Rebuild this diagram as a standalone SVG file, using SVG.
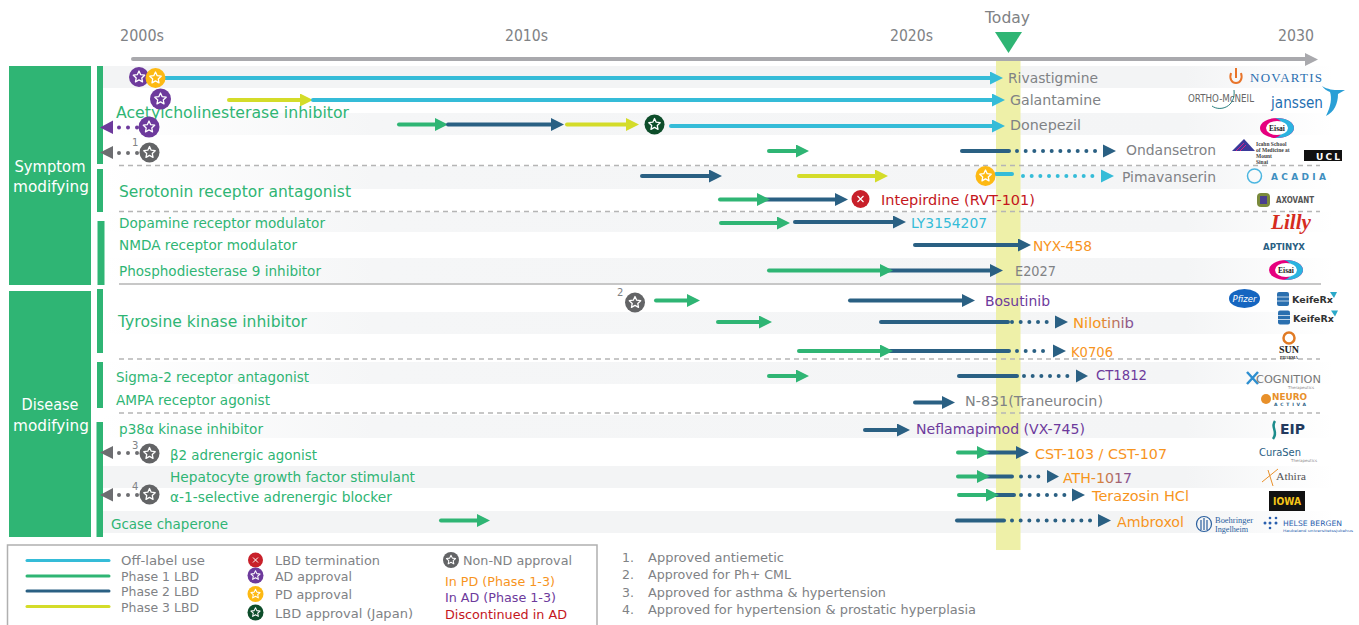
<svg xmlns="http://www.w3.org/2000/svg" width="1359" height="625" viewBox="0 0 1359 625">
<style>
text{font-family:"DejaVu Sans","Noto Sans",sans-serif;font-size:14.500px;fill:#808285}
.g{fill:#2fb574}.o{fill:#f7941d}.p{fill:#6d3a9c}.r{fill:#c4161c}.c{fill:#35bcd8}.w{fill:#fff}
.s{font-size:10px}
.big{font-size:15.500px}
.leg{font-size:12.500px}
.yr{font-size:15.500px}
line{fill:none;stroke-linecap:round;stroke-width:4}
.lc{stroke:#35bcd8}.lg{stroke:#2fb574}.lb{stroke:#2a6083}.ly{stroke:#d4dc29}.lp{stroke:#6d3a9c}.la{stroke:#6d6e71}
.d{stroke-dasharray:0 8.67}
.sep{stroke:#b5b5b5;stroke-width:1.3;stroke-linecap:butt;stroke-dasharray:5 4}
.bar{fill:#2fb574}
.star{fill:none;stroke:#fff;stroke-width:1.3;stroke-linejoin:round}
.lt{font-weight:700;font-family:"Liberation Serif",serif}
</style>
<defs>
<linearGradient id="f1"><stop offset="0" stop-color="#f3f4f5"/><stop offset=".88" stop-color="#f3f4f5"/><stop offset="1" stop-color="#fff"/></linearGradient>
<linearGradient id="f2"><stop offset="0" stop-color="#fff"/><stop offset=".22" stop-color="#f5f6f7"/><stop offset=".88" stop-color="#f4f5f6"/><stop offset="1" stop-color="#fff"/></linearGradient>
<linearGradient id="ath"><stop offset=".4" stop-color="#f7941d"/><stop offset="1" stop-color="#7a4a9c"/></linearGradient>
<path id="st" class="star" d="M0-6 1.7-2.35 5.71-1.85 2.76.9 3.53 4.85 0 2.9-3.53 4.85-2.76.9-5.71-1.85-1.7-2.35Z"/>
<marker id="mc" markerUnits="userSpaceOnUse" markerWidth="13" markerHeight="13" refX="0" refY="6.5" orient="auto"><path d="M0 0 13 6.5 0 13Z" fill="#35bcd8"/></marker>
<marker id="mg" markerUnits="userSpaceOnUse" markerWidth="13" markerHeight="13" refX="0" refY="6.5" orient="auto"><path d="M0 0 13 6.5 0 13Z" fill="#2fb574"/></marker>
<marker id="mb" markerUnits="userSpaceOnUse" markerWidth="13" markerHeight="13" refX="0" refY="6.5" orient="auto"><path d="M0 0 13 6.5 0 13Z" fill="#2a6083"/></marker>
<marker id="my" markerUnits="userSpaceOnUse" markerWidth="13" markerHeight="13" refX="0" refY="6.5" orient="auto"><path d="M0 0 13 6.5 0 13Z" fill="#d4dc29"/></marker>
<g id="eisai"><ellipse cx="0" cy="0" rx="17" ry="10" fill="#e6007e"/><path d="M-2-10A17 10 0 0 1 17 0 17 10 0 0 1-2 10C9 7 9-7-2-10Z" fill="#2bb3e0"/><ellipse cx="0" cy="0" rx="11" ry="7" fill="#fff"/><text class="lt" x="0" y="3" text-anchor="middle" style="font-size:7.5px;fill:#222">Eisai</text></g>
<g id="keife"><rect x="0" y="-7" width="12" height="14" rx="2" fill="#2a6faf"/><path d="M0-2H12M0 2H12" stroke="#fff" stroke-width=".7"/><text x="15" y="4" style="font-size:9px;font-weight:700;fill:#333" textLength="41" lengthAdjust="spacingAndGlyphs">KeifeRx</text><path d="M53-7 60-7 57-1Z" fill="#2ba9c9"/></g>
</defs>

<g id="bands">
<rect x="103" y="66" width="1230" height="22" fill="url(#f1)"/>
<rect x="103" y="113" width="1230" height="22" fill="url(#f2)"/>
<rect x="103" y="166" width="1230" height="23" fill="url(#f2)"/>
<rect x="103" y="212" width="1230" height="20" fill="url(#f2)"/>
<rect x="103" y="258" width="1230" height="25" fill="url(#f2)"/>
<rect x="103" y="312" width="1230" height="22" fill="url(#f2)"/>
<rect x="103" y="362" width="1230" height="22" fill="url(#f2)"/>
<rect x="103" y="415" width="1230" height="23" fill="url(#f2)"/>
<rect x="103" y="466" width="1230" height="22" fill="url(#f1)"/>
<rect x="103" y="511" width="1230" height="22" fill="url(#f1)"/>
<rect x="996" y="58" width="24.500" height="492" fill="#eef0a8"/>
</g>

<g id="sidebar">
<g id="symptom"><rect x="9" y="66" width="82" height="219" fill="#2fb574"/><text class="w big" x="50" y="172" text-anchor="middle" textLength="71" lengthAdjust="spacingAndGlyphs">Symptom</text><text class="w big" x="51" y="192" text-anchor="middle" textLength="76" lengthAdjust="spacingAndGlyphs">modifying</text></g>
<g id="disease"><rect x="9" y="291" width="82" height="246" fill="#2fb574"/><text class="w big" x="50" y="410" text-anchor="middle" textLength="57" lengthAdjust="spacingAndGlyphs">Disease</text><text class="w big" x="51" y="431" text-anchor="middle" textLength="76" lengthAdjust="spacingAndGlyphs">modifying</text></g>
<rect class="bar" x="97" y="66" width="6" height="98"/><rect class="bar" x="97" y="169" width="6" height="43"/><rect class="bar" x="97.500" y="221" width="7" height="64"/><rect class="bar" x="97" y="289" width="6" height="64"/><rect class="bar" x="97" y="362" width="6" height="46"/><rect class="bar" x="96.500" y="422" width="6.500" height="115"/>
</g>

<g id="axis">
<line x1="133" y1="59" x2="1305" y2="59" stroke="#a9a9ad" stroke-width="4.500"/><path d="M1305 53 1318 59.500 1305 66Z" fill="#a9a9ad"/>
<text class="yr" x="120" y="41" textLength="44" lengthAdjust="spacingAndGlyphs">2000s</text><text class="yr" x="505" y="41" textLength="43" lengthAdjust="spacingAndGlyphs">2010s</text><text class="yr" x="890" y="41" textLength="43" lengthAdjust="spacingAndGlyphs">2020s</text><text class="yr" x="1278" y="41" textLength="36" lengthAdjust="spacingAndGlyphs">2030</text>
<g id="today"><text class="yr" x="985" y="23" textLength="45" lengthAdjust="spacingAndGlyphs">Today</text><path d="M995 32H1022L1008.500 53Z" fill="#2fb574"/></g>
</g>

<g id="separators">
<line class="sep" x1="119" y1="165.500" x2="1320" y2="165.500"/><line class="sep" x1="119" y1="211.500" x2="1320" y2="211.500"/><line class="sep" x1="119" y1="359" x2="1320" y2="359"/><line class="sep" x1="119" y1="413" x2="1320" y2="413"/>
<line x1="119" y1="284" x2="1321" y2="284" stroke="#b5b5b5" style="stroke-width:1.300;stroke-linecap:butt"/>
</g>

<g id="connectors">
<line class="lc" x1="160" y1="78" x2="990" y2="78" marker-end="url(#mc)"/>
<line class="ly" x1="229" y1="100" x2="300" y2="100" marker-end="url(#my)"/><line class="lc" x1="313" y1="100" x2="992" y2="100" marker-end="url(#mc)"/>
<line class="lg" x1="399" y1="124.500" x2="435" y2="124.500" marker-end="url(#mg)"/><line class="lb" x1="448" y1="124.500" x2="551" y2="124.500" marker-end="url(#mb)"/><line class="ly" x1="567" y1="124.500" x2="626" y2="124.500" marker-end="url(#my)"/><line class="lc" x1="671" y1="126" x2="992" y2="126" marker-end="url(#mc)"/>
<line class="lg" x1="769" y1="151" x2="796" y2="151" marker-end="url(#mg)"/><line class="lb" x1="962" y1="151" x2="1009" y2="151"/><line class="lb d" x1="1017" y1="151" x2="1096" y2="151"/><path d="M1103 144.500 1116 151 1103 157.500Z" fill="#2a6083"/>
<line class="lb" x1="642" y1="176" x2="709" y2="176" marker-end="url(#mb)"/><line class="ly" x1="799" y1="176" x2="875" y2="176" marker-end="url(#my)"/><line class="lc" x1="996" y1="174" x2="1012" y2="174"/><line class="lc d" x1="1023" y1="176" x2="1096" y2="176"/><path d="M1101 169.500 1114 176 1101 182.500Z" fill="#35bcd8"/>
<line class="lb" x1="765" y1="199.500" x2="835" y2="199.500" marker-end="url(#mb)"/><line class="lg" x1="720" y1="199.500" x2="757" y2="199.500" marker-end="url(#mg)"/>
<line class="lg" x1="721" y1="223" x2="777" y2="223" marker-end="url(#mg)"/><line class="lb" x1="795" y1="222" x2="893" y2="222" marker-end="url(#mb)"/>
<line class="lb" x1="915" y1="245" x2="1018" y2="245" marker-end="url(#mb)"/>
<line class="lb" x1="885" y1="270.500" x2="990" y2="270.500" marker-end="url(#mb)"/><line class="lg" x1="769" y1="270.500" x2="880" y2="270.500" marker-end="url(#mg)"/>
<line class="lg" x1="656" y1="300.500" x2="687" y2="300.500" marker-end="url(#mg)"/><line class="lb" x1="850" y1="300.500" x2="962" y2="300.500" marker-end="url(#mb)"/>
<line class="lg" x1="718" y1="322" x2="759" y2="322" marker-end="url(#mg)"/><line class="lb" x1="881" y1="322" x2="1008" y2="322"/><line class="lb d" x1="1012" y1="322" x2="1048" y2="322"/><path d="M1055 315.500 1068 322 1055 328.500Z" fill="#2a6083"/>
<line class="lb" x1="885" y1="351" x2="1009" y2="351"/><line class="lg" x1="799" y1="351" x2="880" y2="351" marker-end="url(#mg)"/><line class="lb d" x1="1017" y1="351" x2="1046" y2="351"/><path d="M1053 344.500 1066 351 1053 357.500Z" fill="#2a6083"/>
<line class="lg" x1="769" y1="376" x2="796" y2="376" marker-end="url(#mg)"/><line class="lb" x1="959" y1="376" x2="1017" y2="376"/><line class="lb d" x1="1024" y1="376" x2="1071" y2="376"/><path d="M1076 369.500 1088 376 1076 382.500Z" fill="#2a6083"/>
<line class="lb" x1="915" y1="402.500" x2="942" y2="402.500" marker-end="url(#mb)"/>
<line class="lb" x1="865" y1="430" x2="897" y2="430" marker-end="url(#mb)"/>
<line class="lb" x1="985" y1="452.500" x2="1016" y2="452.500" marker-end="url(#mb)"/><line class="lg" x1="958" y1="452.500" x2="977" y2="452.500" marker-end="url(#mg)"/>
<line class="lb" x1="985" y1="476.500" x2="1012" y2="476.500"/><line class="lg" x1="958" y1="476.500" x2="977" y2="476.500" marker-end="url(#mg)"/><line class="lb d" x1="1021" y1="476.500" x2="1040" y2="476.500"/><path d="M1047 470 1059 476.500 1047 483Z" fill="#2a6083"/>
<line class="lb" x1="990" y1="495" x2="1014" y2="495"/><line class="lg" x1="959" y1="495" x2="986" y2="495" marker-end="url(#mg)"/><line class="lb d" x1="1021" y1="495" x2="1068" y2="495"/><path d="M1072 488.500 1085 495 1072 501.500Z" fill="#2a6083"/>
<line class="lb" x1="957" y1="520.500" x2="1004" y2="520.500"/><line class="lb d" x1="1012" y1="520.500" x2="1092" y2="520.500"/><path d="M1098 514 1111 520.500 1098 527Z" fill="#2a6083"/>
<line class="lg" x1="441" y1="520.500" x2="477" y2="520.500" marker-end="url(#mg)"/>
<line class="lp d" style="stroke-dasharray:0 9" x1="119" y1="127.500" x2="138" y2="127.500"/><path d="M113 120.500 100 127.500 113 134Z" fill="#6d3a9c"/>
<line class="la d" style="stroke-dasharray:0 9" x1="119" y1="153" x2="138" y2="153"/><path d="M113 146 100 152.500 113 159Z" fill="#6d6e71"/>
<line class="la d" style="stroke-dasharray:0 9" x1="119" y1="453" x2="138" y2="453"/><path d="M113 446 100 452.500 113 459Z" fill="#6d6e71"/>
<line class="la d" style="stroke-dasharray:0 9" x1="119" y1="495" x2="138" y2="495"/><path d="M113 488 100 495 113 501.500Z" fill="#6d6e71"/>
</g>

<g id="labels">
<text class="g big" x="116" y="118" textLength="233" lengthAdjust="spacingAndGlyphs">Acetylcholinesterase inhibitor</text>
<text class="g big" x="119" y="197" textLength="232" lengthAdjust="spacingAndGlyphs">Serotonin receptor antagonist</text>
<text class="g" x="119" y="228" textLength="206" lengthAdjust="spacingAndGlyphs">Dopamine receptor modulator</text>
<text class="g" x="119" y="250" textLength="178" lengthAdjust="spacingAndGlyphs">NMDA receptor modulator</text>
<text class="g" x="119" y="276" textLength="202" lengthAdjust="spacingAndGlyphs">Phosphodiesterase 9 inhibitor</text>
<text class="g big" x="118" y="327" textLength="189" lengthAdjust="spacingAndGlyphs">Tyrosine kinase inhibitor</text>
<text class="g" x="116" y="382" textLength="193" lengthAdjust="spacingAndGlyphs">Sigma-2 receptor antagonist</text>
<text class="g" x="116" y="405" textLength="154" lengthAdjust="spacingAndGlyphs">AMPA receptor agonist</text>
<text class="g" x="119" y="434" textLength="144" lengthAdjust="spacingAndGlyphs">p38α kinase inhibitor</text>
<text class="g" x="170" y="460" textLength="147" lengthAdjust="spacingAndGlyphs">β2 adrenergic agonist</text>
<text class="g" x="170" y="482" textLength="245" lengthAdjust="spacingAndGlyphs">Hepatocyte growth factor stimulant</text>
<text class="g" x="170" y="502" textLength="222" lengthAdjust="spacingAndGlyphs">α-1-selective adrenergic blocker</text>
<text class="g" x="111" y="529" textLength="117" lengthAdjust="spacingAndGlyphs">Gcase chaperone</text>
<text x="1008" y="83" textLength="90" lengthAdjust="spacingAndGlyphs">Rivastigmine</text>
<text x="1010" y="105" textLength="91" lengthAdjust="spacingAndGlyphs">Galantamine</text>
<text x="1010" y="130" textLength="71" lengthAdjust="spacingAndGlyphs">Donepezil</text>
<text x="1126" y="155" textLength="90" lengthAdjust="spacingAndGlyphs">Ondansetron</text>
<text x="1122" y="182" textLength="94" lengthAdjust="spacingAndGlyphs">Pimavanserin</text>
<text class="r" x="881" y="205" textLength="154" lengthAdjust="spacingAndGlyphs">Intepirdine (RVT-101)</text>
<text class="c" x="911" y="228" textLength="76" lengthAdjust="spacingAndGlyphs">LY3154207</text>
<text class="o" x="1033" y="251" textLength="59" lengthAdjust="spacingAndGlyphs">NYX-458</text>
<text x="1015" y="276" textLength="41" lengthAdjust="spacingAndGlyphs">E2027</text>
<text class="p" x="985" y="306" textLength="65" lengthAdjust="spacingAndGlyphs">Bosutinib</text>
<text x="1073" y="328" textLength="61" lengthAdjust="spacingAndGlyphs" style="fill:url(#ath)">Nilotinib</text>
<text class="o" x="1071" y="357" textLength="42" lengthAdjust="spacingAndGlyphs">K0706</text>
<text class="p" x="1096" y="380" textLength="51" lengthAdjust="spacingAndGlyphs">CT1812</text>
<text x="965" y="406" textLength="138" lengthAdjust="spacingAndGlyphs">N-831(Traneurocin)</text>
<text class="p" x="916" y="434" textLength="169" lengthAdjust="spacingAndGlyphs">Neflamapimod (VX-745)</text>
<text class="o" x="1035" y="459" textLength="132" lengthAdjust="spacingAndGlyphs">CST-103 / CST-107</text>
<text x="1063" y="483" textLength="69" lengthAdjust="spacingAndGlyphs" style="fill:url(#ath)">ATH-1017</text>
<text class="o" x="1092" y="501" textLength="97" lengthAdjust="spacingAndGlyphs">Terazosin HCl</text>
<text class="o" x="1117" y="527" textLength="67" lengthAdjust="spacingAndGlyphs">Ambroxol</text>
<text class="s" x="132" y="146">1</text><text class="s" x="617" y="296">2</text><text class="s" x="132" y="449">3</text><text class="s" x="132" y="490">4</text>
</g>

<g id="markers">
<g id="m1" transform="translate(139 77)"><circle r="10" fill="#6d3a9c"/><use href="#st"/></g>
<g id="m2" transform="translate(155.500 78)"><circle r="10" fill="#fdb913"/><use href="#st"/></g>
<g id="m3" transform="translate(160.500 99)"><circle r="10.500" fill="#6d3a9c"/><use href="#st"/></g>
<g id="m4" transform="translate(149 127)"><circle r="10.500" fill="#6d3a9c"/><use href="#st"/></g>
<g id="m5" transform="translate(149.500 152.500)"><circle r="10" fill="#636466"/><use href="#st"/></g>
<g id="m6" transform="translate(654.500 124.500)"><circle r="10" fill="#0d4d2a"/><use href="#st"/></g>
<g id="m7" transform="translate(985.500 176)"><circle r="10" fill="#fdb913"/><use href="#st"/></g>
<g id="m8" transform="translate(860.500 199)"><circle r="9" fill="#c8202a"/><path d="M-3-3 3 3M3-3-3 3" stroke="#fff" stroke-width="1.200"/></g>
<g id="m9" transform="translate(635 302.500)"><circle r="10" fill="#636466"/><use href="#st"/></g>
<g id="m10" transform="translate(149.500 453.500)"><circle r="10" fill="#636466"/><use href="#st"/></g>
<g id="m11" transform="translate(149.500 494.500)"><circle r="10" fill="#636466"/><use href="#st"/></g>
</g>

<g id="logos">
<g id="novartis"><path d="M1236 68V78M1231 73C1229 79 1232 83 1236 83S1243 79 1241 73" fill="none" stroke="#e8742a" stroke-width="2"/><text x="1250" y="82" textLength="72" lengthAdjust="spacing" style="font-family:'Liberation Serif',serif;font-size:13px;fill:#2a6fb0">NOVARTIS</text></g>
<g id="ortho"><text x="1188" y="102" textLength="66" lengthAdjust="spacingAndGlyphs" style="font-size:10px;fill:#666">ORTHO-McNEIL</text><path d="M1212 106C1220 112 1236 107 1234 90" fill="none" stroke="#2a7f80" stroke-width="1"/></g>
<g id="janssen"><text x="1271" y="108" textLength="52" lengthAdjust="spacingAndGlyphs" style="font-size:15px;fill:#1f6fb2">janssen</text><path d="M1322 86C1330 91 1338 90 1345 90L1338 94C1338 104 1334 112 1326 116 1331 106 1332 98 1330 92 1327 91 1324 89 1322 86Z" fill="#2a9fd6"/></g>
<use id="eisai1" href="#eisai" x="1277" y="128"/>
<g id="sinai"><path d="M1232 151 1244 139 1255 151Z" fill="#3a3a9a"/><path d="M1236 151 1244 143M1240 151 1246 145" stroke="#d61f8a" stroke-width="1"/><text class="lt" x="1256" y="146" style="font-size:5.500px;fill:#444">Icahn School</text><text class="lt" x="1256" y="152" style="font-size:5.500px;fill:#444">of Medicine at</text><text class="lt" x="1256" y="158" style="font-size:5.500px;fill:#444">Mount</text><text class="lt" x="1256" y="164" style="font-size:5.500px;fill:#444">Sinai</text></g>
<g id="ucl"><rect x="1304" y="150" width="38" height="11" fill="#111"/><text class="w" x="1316" y="159.500" style="font-size:9px;font-weight:700" textLength="24">UCL</text></g>
<g id="acadia"><circle cx="1254.500" cy="176" r="7" fill="none" stroke="#4cb6e0" stroke-width="1.500"/><text x="1271" y="179.500" textLength="55" lengthAdjust="spacing" style="font-size:9px;font-weight:700;fill:#3f8fc0">ACADIA</text></g>
<g id="axovant"><rect x="1257" y="193" width="13" height="14" rx="4" fill="#7a8a3c"/><rect x="1260" y="196" width="7" height="8" fill="#4a3f90"/><text x="1276" y="203" textLength="38" lengthAdjust="spacingAndGlyphs" style="font-size:8px;font-weight:700;fill:#555">AXOVANT</text></g>
<text id="lilly" x="1271" y="229" textLength="40" lengthAdjust="spacingAndGlyphs" style="font-family:'Liberation Serif',serif;font-style:italic;font-weight:700;font-size:21px;fill:#d52b1e">Lilly</text>
<g id="aptinyx"><text x="1263" y="250" textLength="42" lengthAdjust="spacingAndGlyphs" style="font-size:9px;font-weight:700;fill:#2a6083">APTINYX</text></g>
<use id="eisai2" href="#eisai" x="1286" y="270"/>
<g id="pfizer"><ellipse cx="1244.500" cy="298.500" rx="15.500" ry="9.500" fill="#1565c0"/><text class="w" x="1244.500" y="302" text-anchor="middle" style="font-size:8.500px;font-style:italic">Pfizer</text></g>
<use id="keife1" href="#keife" x="1277" y="299"/><use id="keife2" href="#keife" x="1278" y="317.500"/>
<g id="sun"><circle cx="1289" cy="338" r="5.500" fill="none" stroke="#e07a24" stroke-width="2.500"/><text class="lt" x="1289" y="353" text-anchor="middle" style="font-size:10px;fill:#222">SUN</text><text class="lt" x="1289" y="358.500" text-anchor="middle" style="font-size:4px;fill:#222">PHARMA</text></g>
<g id="cognition"><path d="M1247 372 1258 384M1258 372 1247 384" stroke="#2e8fd0" stroke-width="2.500"/><text x="1256" y="383" textLength="65" lengthAdjust="spacingAndGlyphs" style="font-size:10px;fill:#777">COGNITION</text><text x="1288" y="388.500" style="font-size:4px;fill:#888">Therapeutics</text></g>
<g id="neuro"><circle cx="1266" cy="399" r="5" fill="#e8902a"/><text x="1272" y="400" textLength="35" lengthAdjust="spacingAndGlyphs" style="font-size:8px;font-weight:700;fill:#e8902a">NEURO</text><text x="1274" y="406" textLength="32" lengthAdjust="spacing" style="font-size:4.500px;font-weight:700;fill:#2a6083">ACTIVA</text></g>
<g id="eip"><path d="M1275 421C1270 428 1279 431 1273 439" fill="none" stroke="#1c8c8c" stroke-width="2.500"/><text x="1280" y="434" textLength="25" lengthAdjust="spacingAndGlyphs" style="font-size:14px;font-weight:700;fill:#223a5e">EIP</text></g>
<g id="curasen"><text x="1259" y="456" textLength="42" lengthAdjust="spacingAndGlyphs" style="font-size:10px;fill:#2a6083">CuraSen</text><text x="1291" y="462" style="font-size:4px;fill:#888">Therapeutics</text></g>
<g id="athira"><path d="M1262 482 1278 469M1268 470 1273 486" stroke="#e8902a" stroke-width="1"/><text x="1276" y="480" textLength="30" lengthAdjust="spacingAndGlyphs" style="font-family:'Liberation Serif',serif;font-size:10px;fill:#555">Athira</text></g>
<g id="iowa"><rect x="1269" y="491" width="36" height="20" fill="#111"/><text x="1287" y="505" text-anchor="middle" textLength="28" lengthAdjust="spacingAndGlyphs" style="font-size:11px;font-weight:700;fill:#f5c518">IOWA</text></g>
<g id="boehringer"><circle cx="1204" cy="524" r="7.500" fill="none" stroke="#2a5f9e" stroke-width="1.200"/><path d="M1201 530V520M1204 530V518M1207 530V520" stroke="#2a5f9e" stroke-width="1.200"/><text x="1215" y="523" textLength="38" lengthAdjust="spacingAndGlyphs" style="font-family:'Liberation Serif',serif;font-size:8px;fill:#2a5f9e">Boehringer</text><text x="1215" y="532" textLength="33" lengthAdjust="spacingAndGlyphs" style="font-family:'Liberation Serif',serif;font-size:8px;fill:#2a5f9e">Ingelheim</text></g>
<g id="helse"><g fill="#2a5fae"><circle cx="1265" cy="523" r="1.500"/><circle cx="1270" cy="523" r="1.500"/><circle cx="1276" cy="523" r="1.500"/><circle cx="1270" cy="518" r="1.300"/><circle cx="1276" cy="518" r="1.300"/><circle cx="1270" cy="528" r="1.300"/></g><text x="1283" y="526" textLength="59" lengthAdjust="spacingAndGlyphs" style="font-size:7.500px;fill:#2a5fae">HELSE BERGEN</text><text x="1283" y="532" textLength="70" lengthAdjust="spacingAndGlyphs" style="font-size:3.500px;fill:#2a5fae">Haukeland universitetssjukehus</text></g>
</g>

<g id="legend">
<path d="M7.500 625V545H597V625" fill="none" stroke="#b0b0b0" stroke-width="1.500"/>
<line class="lc" x1="27" y1="560.500" x2="109" y2="560.500" style="stroke-width:3"/><line class="lg" x1="27" y1="576" x2="109" y2="576" style="stroke-width:3"/><line class="lb" x1="27" y1="591" x2="109" y2="591" style="stroke-width:3"/><line class="ly" x1="27" y1="606.500" x2="109" y2="606.500" style="stroke-width:3"/>
<text class="leg" x="121" y="565" textLength="84" lengthAdjust="spacingAndGlyphs">Off-label use</text><text class="leg" x="121" y="581" textLength="78" lengthAdjust="spacingAndGlyphs">Phase 1 LBD</text><text class="leg" x="121" y="596" textLength="78" lengthAdjust="spacingAndGlyphs">Phase 2 LBD</text><text class="leg" x="121" y="612" textLength="78" lengthAdjust="spacingAndGlyphs">Phase 3 LBD</text>
<g transform="translate(255.500 560)"><circle r="7.500" fill="#c8202a"/><path d="M-2.500-2.500 2.500 2.500M2.500-2.500-2.500 2.500" stroke="#fff" stroke-width="1"/></g>
<g transform="translate(255.500 575.500)"><circle r="8" fill="#6d3a9c"/><use href="#st" transform="scale(.8)"/></g>
<g transform="translate(255.500 594)"><circle r="8" fill="#fdb913"/><use href="#st" transform="scale(.8)"/></g>
<g transform="translate(255.500 612.500)"><circle r="8" fill="#0d4d2a"/><use href="#st" transform="scale(.8)"/></g>
<text class="leg" x="275" y="565" textLength="105" lengthAdjust="spacingAndGlyphs">LBD termination</text><text class="leg" x="275" y="581" textLength="77" lengthAdjust="spacingAndGlyphs">AD approval</text><text class="leg" x="275" y="599" textLength="77" lengthAdjust="spacingAndGlyphs">PD approval</text><text class="leg" x="275" y="618" textLength="138" lengthAdjust="spacingAndGlyphs">LBD approval (Japan)</text>
<g transform="translate(451 560)"><circle r="8" fill="#636466"/><use href="#st" transform="scale(.8)"/></g>
<text class="leg" x="463" y="565" textLength="109" lengthAdjust="spacingAndGlyphs">Non-ND approval</text>
<text class="o leg" x="445" y="586" textLength="110" lengthAdjust="spacingAndGlyphs">In PD (Phase 1-3)</text><text class="p leg" x="445" y="602" textLength="111" lengthAdjust="spacingAndGlyphs">In AD (Phase 1-3)</text><text class="r leg" x="445" y="619" textLength="122" lengthAdjust="spacingAndGlyphs">Discontinued in AD</text>
</g>

<g id="notes">
<text class="leg" x="622" y="562">1.</text><text class="leg" x="648" y="562" textLength="136" lengthAdjust="spacingAndGlyphs">Approved antiemetic</text>
<text class="leg" x="622" y="579">2.</text><text class="leg" x="648" y="579" textLength="143" lengthAdjust="spacingAndGlyphs">Approved for Ph+ CML</text>
<text class="leg" x="622" y="597">3.</text><text class="leg" x="648" y="597" textLength="238" lengthAdjust="spacingAndGlyphs">Approved for asthma &amp; hypertension</text>
<text class="leg" x="622" y="614">4.</text><text class="leg" x="648" y="614" textLength="328" lengthAdjust="spacingAndGlyphs">Approved for hypertension &amp; prostatic hyperplasia</text>
</g>
</svg>
